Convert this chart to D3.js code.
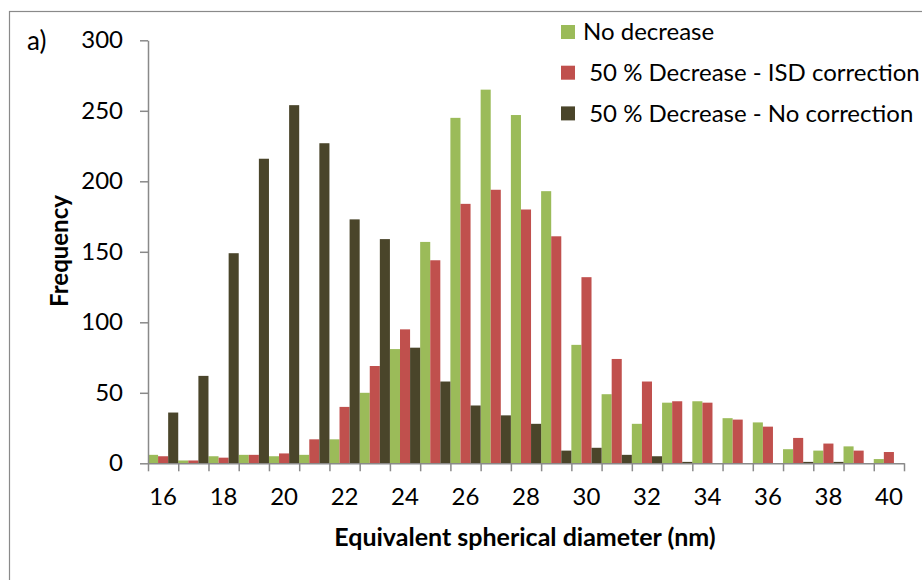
<!DOCTYPE html>
<html>
<head>
<meta charset="utf-8">
<script src="https://cdn.jsdelivr.net/npm/d3@7"></script>
<style>
  body { margin: 0; background: #fff; }
  svg { display: block; font-family: Lato, 'Open Sans', sans-serif; }
</style>
</head>
<body>
<svg id="chart" width="922" height="580"></svg>
<script>
const categories = d3.range(16, 41);
const noDecrease = [6, 2, 5, 6, 5, 6, 17, 50, 81, 157, 245, 265, 247, 193, 84, 49, 28, 43, 44, 32, 29, 10, 9, 12, 3];
const isdCorrection = [5, 2, 4, 6, 7, 17, 40, 69, 95, 144, 184, 194, 180, 161, 132, 74, 58, 44, 43, 31, 26, 18, 14, 9, 8];
const noCorrection = [36, 62, 149, 216, 254, 227, 173, 159, 82, 58, 41, 34, 28, 9, 11, 6, 5, 1, 0, 0, 0, 1, 1, 0, 0];
const seriesNames = ['No decrease', ' 50 % Decrease - ISD correction', ' 50 % Decrease - No correction'];
const yTicks = [0, 50, 100, 150, 200, 250, 300];
const xLabels = [16, 18, 20, 22, 24, 26, 28, 30, 32, 34, 36, 38, 40];

const COLORS = ['#9BBB59', '#C0504D', '#4A452A'];
const AXIS = '#898989';
const PLOT = { left: 148, right: 904, top: 40.3, bottom: 463.3 };

const svg = d3.select('#chart');

// outer chart border (right and bottom are cut off in the picture)
svg.append('rect')
  .attr('x', 9.5).attr('y', 11.5)
  .attr('width', 1000).attr('height', 1000)
  .attr('fill', 'none').attr('stroke', '#8a8a8a').attr('stroke-width', 1.2);

const series = [noDecrease, isdCorrection, noCorrection];

const x = d3.scaleBand().domain(categories).range([PLOT.left, PLOT.right]).padding(0);
const xSub = d3.scaleBand().domain([0, 1, 2]).range([0, x.bandwidth()]).padding(0);
const xEdge = d3.scaleLinear().domain([0, categories.length]).range([PLOT.left, PLOT.right]);
const y = d3.scaleLinear().domain([0, 300]).range([PLOT.bottom, PLOT.top]);

// bars
series.forEach((vals, si) => {
  svg.append('g')
    .attr('fill', COLORS[si])
    .selectAll('rect')
    .data(vals)
    .join('rect')
    .attr('x', (d, i) => x(categories[i]) + xSub(si))
    .attr('width', xSub.bandwidth())
    .attr('y', (d) => y(d))
    .attr('height', (d) => y(0) - y(d));
});

// y axis
const yAxis = svg.append('g')
  .attr('transform', `translate(${PLOT.left}, 0)`)
  .call(d3.axisLeft(y).tickValues(yTicks).tickSize(8).tickPadding(17).tickSizeOuter(0));
yAxis.selectAll('path, line').attr('stroke', AXIS).attr('stroke-width', 1.5);
yAxis.selectAll('text').attr('font-size', 24).attr('fill', '#000').attr('font-family', 'Lato');

// x axis: tick marks between categories
const xTicks = svg.append('g')
  .attr('transform', `translate(0, ${PLOT.bottom})`)
  .call(d3.axisBottom(xEdge).tickValues(d3.range(categories.length + 1)).tickSize(8).tickFormat('').tickSizeOuter(0));
xTicks.selectAll('path, line').attr('stroke', AXIS).attr('stroke-width', 1.5);

// x axis: labels centred on every other category
const xLab = svg.append('g')
  .attr('transform', `translate(0, ${PLOT.bottom})`)
  .call(d3.axisBottom(x).tickValues(xLabels).tickSize(0).tickPadding(25));
xLab.select('.domain').remove();
xLab.selectAll('text').attr('font-size', 24).attr('fill', '#000').attr('font-family', 'Lato');

// axis titles
svg.append('text')
  .attr('x', 525).attr('y', 546)
  .attr('text-anchor', 'middle')
  .attr('font-size', 25).attr('font-weight', 'bold')
  .text('Equivalent spherical diameter (nm)');

svg.append('text')
  .attr('transform', 'translate(68, 251) rotate(-90)')
  .attr('text-anchor', 'middle')
  .attr('font-size', 24).attr('font-weight', 'bold')
  .text('Frequency');

svg.append('text')
  .attr('x', 27).attr('y', 50)
  .attr('font-size', 26)
  .text('a)');

// legend
const legend = svg.append('g').attr('transform', 'translate(561, 25)');
seriesNames.forEach((name, i) => {
  const row = legend.append('g').attr('transform', `translate(0, ${i * 40.7})`);
  row.append('rect').attr('width', 14).attr('height', 14).attr('fill', COLORS[i]);
  row.append('text')
    .attr('x', 22).attr('y', 7)
    .attr('dy', '0.35em')
    .attr('font-size', 24)
    .attr('xml:space', 'preserve')
    .style('white-space', 'pre')
    .text(name);
});
</script>
</body>
</html>
